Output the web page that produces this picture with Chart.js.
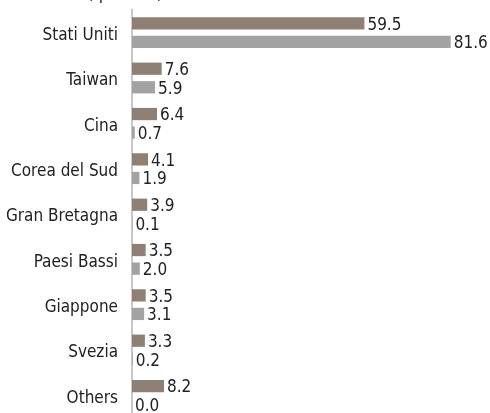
<!DOCTYPE html>
<html>
<head>
<meta charset="utf-8">
<script src="https://cdn.jsdelivr.net/npm/chart.js@4.4.1/dist/chart.umd.min.js"></script>
<style>
  html, body { margin:0; padding:0; background:#fff; overflow:hidden; }
  canvas { display:block; }
</style>
</head>
<body>
<canvas id="c" width="490" height="420"></canvas>
<script>
const countries = ['Stati Uniti','Taiwan','Cina','Corea del Sud','Gran Bretagna','Paesi Bassi','Giappone','Svezia','Others'];
const seriesA = [59.5, 7.6, 6.4, 4.1, 3.9, 3.5, 3.5, 3.3, 8.2];
const seriesB = [81.6, 5.9, 0.7, 1.9, 0.1, 2.0, 3.1, 0.2, 0.0];

const FONT = '"Liberation Sans Narrow", "Arial Narrow", "DejaVu Sans Condensed", sans-serif';

// value labels at the end of each bar
const valueLabels = {
  id: 'valueLabels',
  afterDatasetsDraw(chart) {
    const ctx = chart.ctx;
    ctx.save();
    ctx.font = '17px ' + FONT;
    ctx.fillStyle = '#222';
    ctx.textBaseline = 'middle';
    ctx.textAlign = 'left';
    chart.data.datasets.forEach((ds, i) => {
      chart.getDatasetMeta(i).data.forEach((bar, j) => {
        ctx.fillText(ds.data[j].toFixed(1), bar.x + 3, bar.y + 2);
      });
    });
    ctx.restore();
  }
};

// title cut off at the top of the picture
const cutTitle = {
  id: 'cutTitle',
  afterDraw(chart) {
    const ctx = chart.ctx;
    ctx.save();
    ctx.font = '17px ' + FONT;
    ctx.fillStyle = '#222';
    ctx.textAlign = 'center';
    ctx.textBaseline = 'alphabetic';
    ctx.fillText('(quota %)', 125, -1);
    ctx.restore();
  }
};

new Chart(document.getElementById('c'), {
  type: 'bar',
  data: {
    labels: countries,
    datasets: [
      { label:'A', data:seriesA, backgroundColor:'#8f8076', categoryPercentage:0.82, barPercentage:0.66 },
      { label:'B', data:seriesB, backgroundColor:'#a2a2a2', categoryPercentage:0.82, barPercentage:0.66 },
    ]
  },
  options: {
    indexAxis: 'y',
    responsive: false,
    animation: false,
    layout: { padding: { top:10, bottom:2, right:26, left:0 } },
    plugins: { legend:{display:false}, tooltip:{enabled:false}, title:{display:false} },
    scales: {
      x: { display:false, min:0, max:85 },
      y: {
        grid: { display:false, drawTicks:false },
        border: { display:true, color:'#c8c8c8', width:2 },
        ticks: { color:'#222', padding:14, labelOffset:3, font:{ family:FONT, size:17 } },
        afterFit(scale) {
          scale.width = 132;
          scale.paddingTop = 0;
          scale.paddingBottom = 0;
        }
      }
    }
  },
  plugins: [valueLabels, cutTitle]
});
</script>
</body>
</html>
